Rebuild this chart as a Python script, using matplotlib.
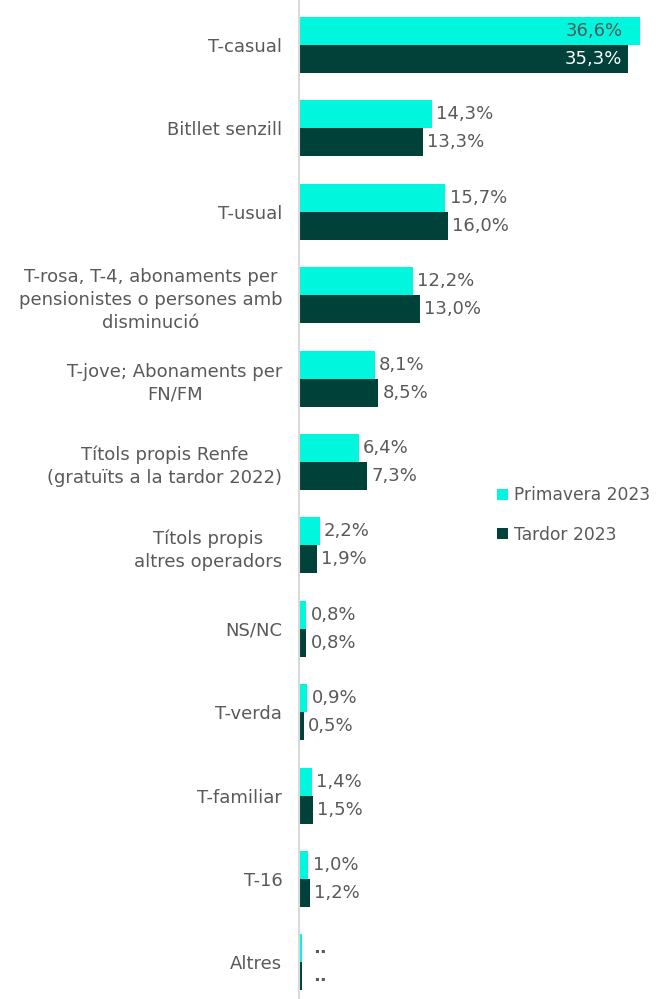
import matplotlib.pyplot as plt
import numpy as np

# Dades
categories = ['T-casual', 'Bitllet senzill', 'T-usual',
              'T-rosa, T-4, abonaments per\npensionistes o persones amb\ndisminució',
              'T-jove; Abonaments per\nFN/FM',
              'Títols propis Renfe\n(gratuïts a la tardor 2022)',
              'Títols propis\naltres operadors',
              'NS/NC', 'T-verda', 'T-familiar', 'T-16', 'Altres']
primavera = [36.6, 14.3, 15.7, 12.2, 8.1, 6.4, 2.2, 0.8, 0.9, 1.4, 1.0, 0.3]
tardor = [35.3, 13.3, 16.0, 13.0, 8.5, 7.3, 1.9, 0.8, 0.5, 1.5, 1.2, 0.3]
etiquetes_primavera = ['36,6%', '14,3%', '15,7%', '12,2%', '8,1%', '6,4%', '2,2%',
                       '0,8%', '0,9%', '1,4%', '1,0%', '..']
etiquetes_tardor = ['35,3%', '13,3%', '16,0%', '13,0%', '8,5%', '7,3%', '1,9%',
                    '0,8%', '0,5%', '1,5%', '1,2%', '..']
series = ['Primavera 2023', 'Tardor 2023']

color_primavera = '#00F7DE'
color_tardor = '#00423A'
gris = '#595959'

plt.rcParams['font.family'] = ['DejaVu Sans']

fig = plt.figure(figsize=(6.56, 9.99), dpi=100)
ax = fig.add_axes([299 / 656, 0, 1 - 299 / 656, 1])

y = np.arange(len(categories))
h = 0.336
ax.barh(y - h / 2, primavera, height=h, color=color_primavera, label=series[0])
ax.barh(y + h / 2, tardor, height=h, color=color_tardor, label=series[1])

ax.set_ylim(11.44, -0.54)
ax.set_xlim(0, 38.3)

mida = 13
for i in range(len(categories)):
    if i == 0:
        # etiquetes dins de la barra
        x_dins = tardor[i] - 0.6
        ax.text(x_dins, y[i] - h / 2, etiquetes_primavera[i], ha='right', va='center',
                fontsize=mida, color=gris)
        ax.text(x_dins, y[i] + h / 2, etiquetes_tardor[i], ha='right', va='center',
                fontsize=mida, color='white')
    else:
        # els ".." van una mica més separats
        pad = 1.2 if etiquetes_primavera[i] == '..' else 0.45
        ax.text(primavera[i] + pad, y[i] - h / 2, etiquetes_primavera[i], ha='left', va='center',
                fontsize=mida, color=gris, fontweight='bold' if pad > 1 else 'normal')
        ax.text(tardor[i] + pad, y[i] + h / 2, etiquetes_tardor[i], ha='left', va='center',
                fontsize=mida, color=gris, fontweight='bold' if pad > 1 else 'normal')

ax.set_yticks(y)
ax.set_yticklabels(categories, fontsize=mida, color=gris, multialignment='center',
                   linespacing=1.35)
ax.tick_params(axis='y', length=0, pad=12)
ax.set_xticks([])
for s in ['top', 'right', 'bottom']:
    ax.spines[s].set_visible(False)
ax.spines['left'].set_color('#D9D9D9')
ax.spines['left'].set_linewidth(1.5)

leg = ax.legend(loc='upper left', bbox_to_anchor=(183 / 357, 1 - 471 / 999), frameon=False,
                fontsize=12.3, handlelength=0.6, handleheight=0.6, handletextpad=0.4,
                labelspacing=1.25)
for t in leg.get_texts():
    t.set_color(gris)

fig.savefig('out.png', dpi=100)
